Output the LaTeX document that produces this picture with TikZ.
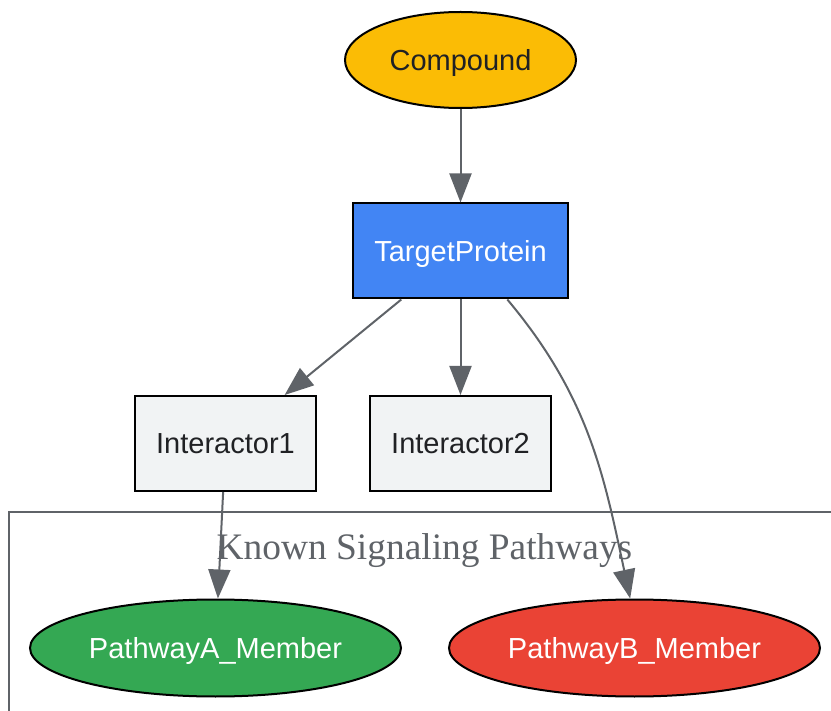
\documentclass[tikz,border=0pt]{standalone}
\usepackage{fontspec}
\setmainfont{Liberation Serif}
\newfontfamily\labelfont{Liberation Sans}
\usetikzlibrary{arrows.meta,shapes.geometric}
\definecolor{edgegray}{HTML}{5F6368}
\definecolor{darktext}{HTML}{202124}
\definecolor{cmpyellow}{HTML}{FBBC05}
\definecolor{tpblue}{HTML}{4285F4}
\definecolor{intgray}{HTML}{F1F3F4}
\definecolor{pagreen}{HTML}{34A853}
\definecolor{pbred}{HTML}{EA4335}
\begin{document}
\begin{tikzpicture}[x=1pt,y=1pt,
  nodetext/.style={font=\labelfont\fontsize{29}{34}\selectfont,text height=27pt,text depth=6pt},
  oval/.style={nodetext,ellipse,draw=black,line width=2pt,inner sep=0pt,minimum width=231pt,minimum height=96pt},
  wideoval/.style={oval,minimum width=371pt,minimum height=97pt},
  box/.style={nodetext,rectangle,draw=black,line width=2pt,inner sep=0pt,minimum width=181pt,minimum height=95pt},
  edge/.style={draw=edgegray,line width=2pt,-{Triangle[length=29pt,width=22pt]}}]
\useasboundingbox(0,0) rectangle (831,-711);
% cluster
\draw[edgegray,line width=1.7pt](9,-720) |- (840,-512);
\node[text=edgegray,font=\fontsize{37.4}{42}\selectfont](clab) at (424.5,-551){Known Signaling Pathways};
% nodes
\node[oval,fill=cmpyellow,text=darktext](cmp) at (460.5,-60){Compound};
\node[box,fill=tpblue,text=white,minimum width=215pt](tp) at (460.5,-251){TargetProtein};
\node[box,fill=intgray,text=darktext](i1) at (225.5,-443.5){Interactor1};
\node[box,fill=intgray,text=darktext](i2) at (460.5,-443.5){Interactor2};
\node[wideoval,fill=pagreen,text=white](pa) at (215.5,-648){PathwayA\_Member};
\node[wideoval,fill=pbred,text=white](pb) at (634.5,-648){PathwayB\_Member};
% edges
\draw[edge](cmp)--(tp);
\draw[edge](tp)--(i1);
\draw[edge](tp)--(i2);
\draw[edge](i1)--(pa);
\draw[edge](tp.-46) to [out=-50,in=102] (pb.95);
\end{tikzpicture}
\end{document}
